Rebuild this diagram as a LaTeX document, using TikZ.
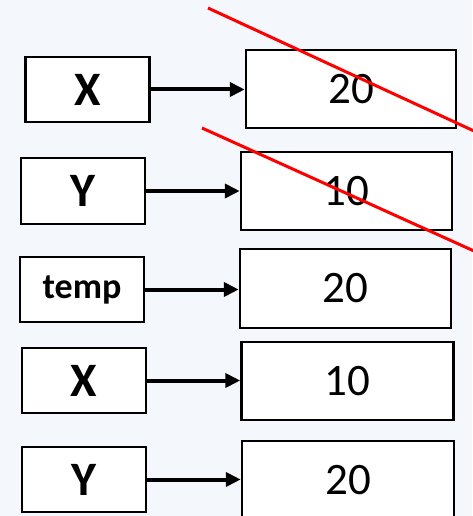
\documentclass[tikz,border=0pt]{standalone}
\usepackage{fontspec}
\setmainfont{Carlito}
\usetikzlibrary{arrows.meta}
\definecolor{bg}{HTML}{F4F7FB}
\tikzset{
  varbox/.style={draw=black, fill=white, line width=2.5pt, inner sep=0pt, font=\fontsize{48}{48}\selectfont\bfseries},
  valbox/.style={draw=black, fill=white, line width=2.5pt, inner sep=0pt, font=\fontsize{45}{45}\selectfont},
  ptr/.style={line width=4pt, -{Triangle[length=15pt,width=14pt]}},
  strike/.style={draw=red, line width=3pt}
}
\begin{document}
\begin{tikzpicture}[x=1pt,y=-1pt]
\fill[bg] (0,0) rectangle (472,516);
\useasboundingbox (0,0) rectangle (472,516);
% row 1
\node[varbox, minimum width=124pt, minimum height=65pt] (x1) at (87.5,89.5) {X};
\node[valbox, minimum width=210pt, minimum height=78pt] (v1) at (351,89) {20};
% row 2
\node[varbox, minimum width=124pt, minimum height=66pt] (y1) at (83,191) {Y};
\node[valbox, minimum width=211pt, minimum height=78pt] (v2) at (346.5,191) {10};
% row 3
\node[varbox, minimum width=124pt, minimum height=65pt, font=\fontsize{36}{36}\selectfont\bfseries] (t) at (82,289.5) {temp};
\node[valbox, minimum width=211pt, minimum height=79pt] (v3) at (345.5,288.5) {20};
% row 4
\node[varbox, minimum width=124pt, minimum height=65pt] (x2) at (84,380.5) {X};
\node[valbox, minimum width=212pt, minimum height=78pt] (v4) at (347.5,381) {10};
% row 5
\node[varbox, minimum width=124pt, minimum height=65pt] (y2) at (84,479.5) {Y};
\node[valbox, minimum width=212pt, minimum height=78pt] (v5) at (348,480) {20};
% arrows
\draw[ptr] (x1.east) -- (x1.east -| v1.west);
\draw[ptr] (y1.east) -- (y1.east -| v2.west);
\draw[ptr] (t.east) -- (t.east -| v3.west);
\draw[ptr] (x2.east) -- (x2.east -| v4.west);
\draw[ptr] (y2.east) -- (y2.east -| v5.west);
% strike lines
\coordinate (s1a) at (208,8);
\coordinate (s1b) at (474,131);
\coordinate (s2a) at (202,128);
\coordinate (s2b) at (474,251);
\draw[strike] (s1a) -- (s1b);
\draw[strike] (s2a) -- (s2b);
\end{tikzpicture}
\end{document}
